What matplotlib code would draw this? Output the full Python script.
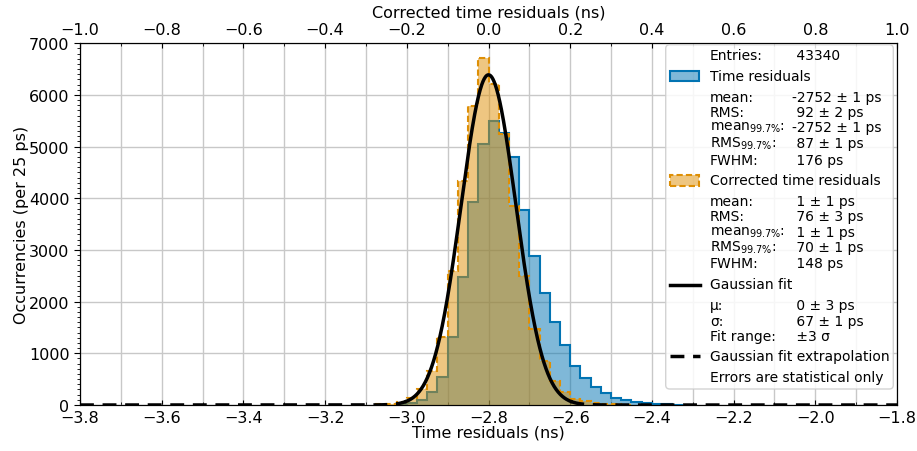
import numpy as np
import matplotlib.pyplot as plt
from matplotlib.patches import FancyBboxPatch, Rectangle
from matplotlib.lines import Line2D
from matplotlib.ticker import MultipleLocator
from matplotlib.transforms import IdentityTransform

BIN_WIDTH = 0.025  # ns (25 ps)

# raw time residuals (ns), counts per 25 ps bin
raw_first_edge = -3.025
raw_counts = [15, 40, 100, 246, 536, 1310, 2471, 3923, 5051, 5502, 5258, 4794,
              3780, 2889, 2162, 1612, 1161, 760, 517, 354, 232, 141, 97, 64,
              39, 19, 10, 5]

# corrected time residuals (ns), counts per 25 ps bin
corr_first_edge = -0.275
corr_counts = [10, 25, 60, 130, 310, 664, 1310, 2599, 4341, 5793, 6716, 6212,
               5245, 3857, 2502, 1471, 857, 470, 246, 116, 80, 45, 25, 12, 6]

# gaussian fit on corrected residuals
fit_mu = 0.0
fit_sigma = 0.067
fit_amp = 6390
fit_nsigma = 3

# legend text
entries = "43340"
raw_stats = [("mean:", "-2752 ± 1 ps"), ("RMS:", " 92 ± 2 ps"),
             (r"mean$_{99.7\%}$:", "-2752 ± 1 ps"), (r"RMS$_{99.7\%}$:", " 87 ± 1 ps"),
             ("FWHM:", " 176 ps")]
corr_stats = [("mean:", " 1 ± 1 ps"), ("RMS:", " 76 ± 3 ps"),
              (r"mean$_{99.7\%}$:", " 1 ± 1 ps"), (r"RMS$_{99.7\%}$:", " 70 ± 1 ps"),
              ("FWHM:", " 148 ps")]
fit_stats = [("μ:", " 0 ± 3 ps"), ("σ:", " 67 ± 1 ps"), ("Fit range:", " ±3 σ")]

BLUE = "#0173b2"
ORANGE = "#de8f05"
W, H = 917, 452

fig = plt.figure(figsize=(W / 100, H / 100), dpi=100)
ax = fig.add_axes([80 / W, 1 - 406 / H, 817 / W, (406 - 44.3) / H])

raw_edges = raw_first_edge + BIN_WIDTH * np.arange(len(raw_counts) + 1)
ax.stairs(raw_counts, raw_edges, fill=True, color=BLUE, alpha=0.5, lw=0)
ax.stairs(raw_counts, raw_edges, color=BLUE, lw=1.5)

ax.set_xlim(-3.8, -1.8)
ax.set_ylim(0, 7000)
ax.xaxis.set_major_locator(MultipleLocator(0.2))
ax.xaxis.set_minor_locator(MultipleLocator(0.1))
ax.yaxis.set_major_locator(MultipleLocator(1000))
ax.yaxis.set_minor_locator(MultipleLocator(100))
ax.grid(True, which="major", color="#c8c8c8", lw=1)
ax.grid(True, which="minor", axis="x", color="#c8c8c8", lw=1)
ax.set_axisbelow(True)
ax.tick_params(axis="x", which="both", direction="in", labelsize=11.5)
ax.tick_params(axis="y", which="major", labelsize=11.5, length=4)
ax.tick_params(axis="y", which="minor", length=2)
ax.set_xlabel("Time residuals (ns)", fontsize=11.5, labelpad=0)
ax.set_ylabel("Occurrencies (per 25 ps)", fontsize=11.5, labelpad=0)

# corrected residuals on the top axis
ax2 = ax.twiny()
ax2.set_xlim(-1.0, 1.0)
ax2.xaxis.set_major_locator(MultipleLocator(0.2))
ax2.xaxis.set_minor_locator(MultipleLocator(0.1))
ax2.tick_params(axis="x", which="both", direction="in", labelsize=11.5, pad=4.5)
ax2.set_xlabel("Corrected time residuals (ns)", fontsize=11.5, labelpad=4)

corr_edges = corr_first_edge + BIN_WIDTH * np.arange(len(corr_counts) + 1)
ax2.stairs(corr_counts, corr_edges, fill=True, color=ORANGE, alpha=0.5, lw=0)
ax2.stairs(corr_counts, corr_edges, color=ORANGE, lw=1.5, ls=(0, (3, 1.5)))

lo = fit_mu - fit_nsigma * fit_sigma
hi = fit_mu + fit_nsigma * fit_sigma
x_in = np.linspace(lo, hi, 400)
gauss = lambda x: fit_amp * np.exp(-0.5 * ((x - fit_mu) / fit_sigma) ** 2)
ax2.plot(x_in, gauss(x_in), color="black", lw=2.5)
x_left = np.linspace(-1.0, lo, 300)
x_right = np.linspace(hi, 1.0, 300)
ax2.plot(x_left, gauss(x_left), color="black", lw=2.5, ls=(0, (4, 2.5)))
ax2.plot(x_right, gauss(x_right), color="black", lw=2.5, ls=(0, (4, 2.5)))
ax2.set_ylim(0, 7000)

# hand-made legend box (pixel layout)
tr = IdentityTransform()
def py(y):
    return H - y

fig.patches.append(FancyBboxPatch((665.7, py(390)), 893.3 - 665.7, 390 - 45.7,
                                  boxstyle="round,pad=0,rounding_size=4",
                                  transform=tr, facecolor="white", alpha=0.85,
                                  edgecolor="#cccccc", lw=1, zorder=5))
LX, VX, FS = 710, 792.5, 10

def label(y, text, value=None):
    fig.text(LX, py(y), text, transform=tr, fontsize=FS, va="center", zorder=6)
    if value is not None:
        fig.text(VX, py(y), value, transform=tr, fontsize=FS, va="center", zorder=6)

label(56, "Entries:", " " + entries)
fig.patches.append(Rectangle((670, py(82.3)), 29.3, 10.6, transform=tr, facecolor=BLUE,
                             alpha=0.5, lw=0, zorder=6))
fig.patches.append(Rectangle((670, py(82.3)), 29.3, 10.6, transform=tr, fill=False,
                             edgecolor=BLUE, lw=1.5, zorder=6))
label(76.7, "Time residuals")
for (name, val), y in zip(raw_stats, [98.3, 113.3, 128.3, 144.3, 160.7]):
    label(y, name, val)
fig.patches.append(Rectangle((670, py(186.7)), 29.3, 10.6, transform=tr, facecolor=ORANGE,
                             alpha=0.5, lw=0, zorder=6))
fig.patches.append(Rectangle((670, py(186.7)), 29.3, 10.6, transform=tr, fill=False,
                             edgecolor=ORANGE, lw=1.5, ls=(0, (3, 1.5)), zorder=6))
label(181, "Corrected time residuals")
for (name, val), y in zip(corr_stats, [202, 217.3, 232.7, 248.3, 264.3]):
    label(y, name, val)
fig.lines.append(Line2D([670, 700], [py(285.7), py(285.7)], transform=tr, color="black",
                        lw=2.5, zorder=6))
label(285, "Gaussian fit")
for (name, val), y in zip(fit_stats, [306, 321.7, 336.7]):
    label(y, name, val)
fig.lines.append(Line2D([670, 700], [py(356.7), py(356.7)], transform=tr, color="black",
                        lw=2.5, ls=(0, (4, 2.5)), zorder=6))
label(356.7, "Gaussian fit extrapolation")
label(377.7, "Errors are statistical only")

fig.savefig("out.png", dpi=100)
